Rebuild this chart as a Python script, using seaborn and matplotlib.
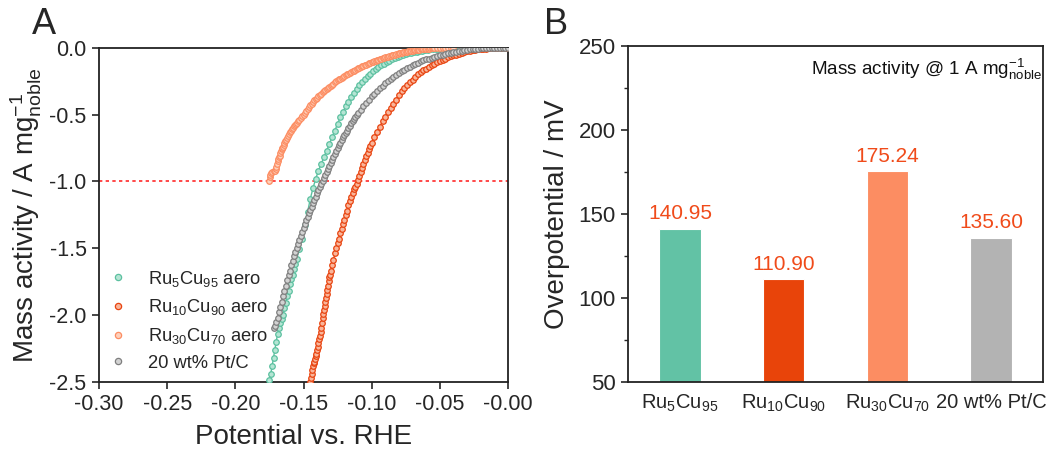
import numpy as np
import pandas as pd
import matplotlib
matplotlib.use("Agg")
import matplotlib.pyplot as plt
import seaborn as sns
from matplotlib.lines import Line2D

# ---------------- data: panel A (potential V vs. RHE, mass activity A mg-1) -------------
ru5_E = [-0.175, -0.174, -0.173, -0.172, -0.171, -0.170, -0.169, -0.168, -0.167, -0.166,
         -0.165, -0.164, -0.163, -0.162, -0.161, -0.160, -0.159, -0.158, -0.157, -0.156,
         -0.155, -0.153, -0.151, -0.149, -0.147, -0.145, -0.143, -0.141, -0.139, -0.137,
         -0.135, -0.133, -0.131, -0.129, -0.127, -0.125, -0.123, -0.121, -0.119, -0.117,
         -0.115, -0.113, -0.111, -0.109, -0.107, -0.105, -0.103, -0.101, -0.099, -0.097,
         -0.095, -0.093, -0.091, -0.089, -0.087, -0.085, -0.083, -0.081, -0.079, -0.077,
         -0.075, -0.073, -0.071, -0.069, -0.067, -0.065, -0.063, -0.061, -0.059, -0.057,
         -0.055, -0.053, -0.051, -0.049, -0.047, -0.045, -0.043, -0.040, -0.035, -0.030,
         -0.025, -0.020, -0.015, -0.010, -0.005, 0.000]
ru5_J = [-2.49, -2.44, -2.38, -2.32, -2.26, -2.20, -2.14, -2.10, -2.06, -2.03,
         -2.00, -1.95, -1.91, -1.86, -1.82, -1.77, -1.73, -1.70, -1.66, -1.62,
         -1.58, -1.51, -1.43, -1.33, -1.23, -1.13, -1.05, -0.98, -0.92, -0.87,
         -0.82, -0.77, -0.72, -0.67, -0.62, -0.57, -0.52, -0.48, -0.44, -0.405,
         -0.37, -0.34, -0.31, -0.28, -0.255, -0.235, -0.215, -0.195, -0.177, -0.16,
         -0.145, -0.132, -0.12, -0.108, -0.097, -0.087, -0.078, -0.07, -0.062, -0.055,
         -0.049, -0.043, -0.038, -0.033, -0.029, -0.025, -0.021, -0.018, -0.015, -0.012,
         -0.010, -0.008, -0.007, -0.005, -0.004, -0.003, -0.002, -0.001, -0.001, 0.0,
         0.0, 0.0, 0.0, 0.0, 0.0, 0.0]

ru10_E = [-0.1450, -0.1445, -0.1440, -0.1435, -0.1430, -0.1425, -0.1420, -0.1415, -0.1410,
          -0.1405, -0.1400, -0.1395, -0.1390, -0.1385, -0.1380, -0.1375, -0.1370, -0.1365,
          -0.1360, -0.1355, -0.1350, -0.1345, -0.1340, -0.1335, -0.1330, -0.1325, -0.1320,
          -0.1315, -0.1310, -0.1305, -0.1300, -0.129, -0.128, -0.127, -0.126, -0.125, -0.124,
          -0.123, -0.122, -0.121, -0.120, -0.119, -0.118, -0.117, -0.116, -0.115, -0.114,
          -0.113, -0.112, -0.111, -0.110, -0.109, -0.108, -0.107, -0.106, -0.105, -0.104,
          -0.103, -0.102, -0.101, -0.100, -0.098, -0.096, -0.094, -0.092, -0.090, -0.088,
          -0.086, -0.084, -0.082, -0.080, -0.078, -0.076, -0.074, -0.072, -0.070, -0.068,
          -0.066, -0.064, -0.062, -0.060, -0.058, -0.056, -0.054, -0.052, -0.050, -0.048,
          -0.046, -0.044, -0.042, -0.040, -0.038, -0.036, -0.034, -0.032, -0.030, -0.028,
          -0.026, -0.024, -0.022, -0.020, -0.018, -0.016, -0.014, -0.012, -0.010, -0.008,
          -0.005, -0.002, 0.000]
ru10_J = [-2.50, -2.47, -2.44, -2.41, -2.38, -2.36, -2.35, -2.33, -2.31,
          -2.29, -2.26, -2.24, -2.21, -2.18, -2.16, -2.13, -2.10, -2.06,
          -2.02, -1.99, -1.96, -1.93, -1.90, -1.87, -1.84, -1.81, -1.78,
          -1.75, -1.72, -1.70, -1.67, -1.63, -1.59, -1.54, -1.50, -1.46, -1.43,
          -1.39, -1.36, -1.32, -1.29, -1.25, -1.22, -1.18, -1.15, -1.12, -1.09,
          -1.06, -1.04, -1.02, -0.99, -0.96, -0.93, -0.90, -0.87, -0.84, -0.81,
          -0.785, -0.76, -0.735, -0.71, -0.67, -0.63, -0.59, -0.55, -0.515, -0.48,
          -0.45, -0.42, -0.39, -0.355, -0.325, -0.30, -0.28, -0.26, -0.24, -0.22,
          -0.20, -0.185, -0.17, -0.157, -0.145, -0.133, -0.121, -0.11, -0.10, -0.09,
          -0.082, -0.073, -0.065, -0.058, -0.051, -0.044, -0.038, -0.033, -0.028, -0.023,
          -0.019, -0.016, -0.013, -0.010, -0.008, -0.006, -0.004, -0.003, -0.002, -0.001,
          -0.001, 0.0, 0.0]

ru30_E = [-0.1752, -0.1748, -0.1743, -0.1736, -0.1728, -0.1720, -0.1712, -0.1705, -0.1700,
          -0.1695, -0.1690, -0.1685, -0.1680, -0.1675, -0.1670, -0.1665, -0.1660, -0.1655,
          -0.1650, -0.1645, -0.1640, -0.1635, -0.1630, -0.1622, -0.1615, -0.1608, -0.1600,
          -0.1592, -0.1585, -0.1578, -0.1570, -0.1562, -0.1555, -0.1548, -0.1540, -0.1530,
          -0.1520, -0.1510, -0.1500, -0.1490, -0.1480, -0.1470, -0.1460, -0.1450, -0.1440,
          -0.1430, -0.1420, -0.1410, -0.1400, -0.1390, -0.1380, -0.1370, -0.1360, -0.1350,
          -0.1340, -0.1330, -0.1320, -0.1310, -0.1300, -0.1290, -0.1280, -0.1270, -0.1260,
          -0.1250, -0.1240, -0.1230, -0.1220, -0.1210, -0.1200, -0.1190, -0.1180, -0.1170,
          -0.1160, -0.1150, -0.1140, -0.1130, -0.1120, -0.1110, -0.1100, -0.1090, -0.1080,
          -0.1070, -0.1060, -0.1050, -0.1040, -0.1030, -0.1020, -0.1010, -0.1000, -0.0990,
          -0.0980, -0.0970, -0.0960, -0.0950, -0.0940, -0.0930, -0.0920, -0.0910, -0.0900,
          -0.0890, -0.0880, -0.0870, -0.0860, -0.0850, -0.0840, -0.0830, -0.0820, -0.0810,
          -0.0800, -0.0790, -0.0780, -0.0770, -0.0760, -0.0750, -0.0740, -0.0730, -0.0720,
          -0.0710, -0.0700, -0.0690, -0.0680, -0.0670, -0.0660, -0.0650, -0.0640, -0.0630,
          -0.0620, -0.0610, -0.0600, -0.0590, -0.0580, -0.0570, -0.0560, -0.0550, -0.0540,
          -0.0520, -0.0500, -0.0480, -0.0460, -0.0440, -0.0420, -0.0400]
ru30_J = [-1.00, -0.97, -0.95, -0.935, -0.93, -0.925, -0.92, -0.905, -0.89,
          -0.87, -0.85, -0.835, -0.82, -0.81, -0.79, -0.775, -0.76, -0.75,
          -0.74, -0.725, -0.71, -0.70, -0.69, -0.675, -0.66, -0.645, -0.63,
          -0.62, -0.61, -0.60, -0.585, -0.575, -0.57, -0.56, -0.55, -0.54,
          -0.525, -0.512, -0.50, -0.488, -0.475, -0.46, -0.445, -0.432, -0.42,
          -0.408, -0.395, -0.385, -0.375, -0.365, -0.355, -0.345, -0.335, -0.325,
          -0.315, -0.307, -0.30, -0.292, -0.285, -0.276, -0.268, -0.26, -0.252,
          -0.245, -0.238, -0.231, -0.225, -0.218, -0.212, -0.206, -0.20, -0.194,
          -0.188, -0.182, -0.177, -0.171, -0.166, -0.160, -0.155, -0.150, -0.145,
          -0.140, -0.136, -0.131, -0.127, -0.122, -0.118, -0.114, -0.110, -0.106,
          -0.102, -0.098, -0.094, -0.090, -0.087, -0.083, -0.080, -0.076, -0.073,
          -0.070, -0.066, -0.063, -0.060, -0.057, -0.054, -0.051, -0.048, -0.045,
          -0.043, -0.040, -0.038, -0.035, -0.033, -0.031, -0.029, -0.027, -0.025,
          -0.023, -0.021, -0.0195, -0.018, -0.0165, -0.015, -0.0135, -0.012, -0.011,
          -0.010, -0.009, -0.008, -0.007, -0.006, -0.0055, -0.005, -0.0045, -0.004,
          -0.003, -0.002, -0.002, -0.001, -0.001, -0.001, 0.0]

ptc_E = [-0.172, -0.171, -0.170, -0.169, -0.168, -0.167, -0.166, -0.165, -0.164, -0.163,
         -0.162, -0.161, -0.160, -0.159, -0.158, -0.157, -0.156, -0.155, -0.154, -0.153,
         -0.152, -0.151, -0.150, -0.149, -0.148, -0.147, -0.146, -0.145, -0.144, -0.143,
         -0.142, -0.141, -0.140, -0.139, -0.138, -0.137, -0.136, -0.135, -0.134, -0.133,
         -0.132, -0.131, -0.130, -0.129, -0.128, -0.127, -0.126, -0.125, -0.124, -0.123,
         -0.122, -0.121, -0.120, -0.119, -0.118, -0.117, -0.116, -0.115, -0.114, -0.113,
         -0.112, -0.111, -0.110, -0.108, -0.106, -0.104, -0.102, -0.100, -0.098, -0.096,
         -0.094, -0.092, -0.090, -0.088, -0.086, -0.084, -0.082, -0.080, -0.078, -0.076,
         -0.074, -0.072, -0.070, -0.068, -0.066, -0.064, -0.062, -0.060, -0.058, -0.056,
         -0.054, -0.052, -0.050, -0.048, -0.046, -0.044, -0.042, -0.040, -0.038, -0.036,
         -0.034, -0.032, -0.030, -0.028, -0.026, -0.024, -0.022, -0.020, -0.018, -0.016,
         -0.014, -0.012, -0.010, -0.008, -0.006, -0.004, -0.002, 0.000]
ptc_J = [-2.10, -2.08, -2.05, -2.02, -1.98, -1.94, -1.90, -1.86, -1.82, -1.78,
         -1.74, -1.70, -1.67, -1.63, -1.60, -1.56, -1.53, -1.50, -1.47, -1.44,
         -1.41, -1.38, -1.35, -1.32, -1.29, -1.265, -1.24, -1.215, -1.19, -1.165,
         -1.14, -1.115, -1.09, -1.065, -1.04, -1.02, -1.00, -0.975, -0.95, -0.93,
         -0.91, -0.885, -0.86, -0.84, -0.82, -0.795, -0.77, -0.75, -0.73, -0.71,
         -0.69, -0.672, -0.655, -0.637, -0.62, -0.602, -0.585, -0.567, -0.55, -0.535,
         -0.52, -0.505, -0.49, -0.465, -0.44, -0.415, -0.39, -0.365, -0.345, -0.325,
         -0.305, -0.285, -0.265, -0.25, -0.235, -0.22, -0.205, -0.19, -0.177, -0.165,
         -0.153, -0.142, -0.131, -0.121, -0.112, -0.103, -0.095, -0.088, -0.081, -0.074,
         -0.068, -0.062, -0.056, -0.051, -0.046, -0.041, -0.037, -0.033, -0.029, -0.025,
         -0.022, -0.019, -0.016, -0.013, -0.011, -0.009, -0.007, -0.005, -0.004, -0.003,
         -0.002, -0.001, -0.001, 0.0, 0.0, 0.0, 0.0, 0.0]

legend_labels = [r'Ru$_5$Cu$_{95}$ aero', r'Ru$_{10}$Cu$_{90}$ aero',
                 r'Ru$_{30}$Cu$_{70}$ aero', '20 wt% Pt/C']
threshold = -1.0

# ---------------- data: panel B ----------------
bar_labels = [r'Ru$_5$Cu$_{95}$', r'Ru$_{10}$Cu$_{90}$', r'Ru$_{30}$Cu$_{70}$', '20 wt% Pt/C']
bar_values = [140.95, 110.90, 175.24, 135.60]

# ---------------- style ----------------
sns.set_theme(style="ticks")
plt.rcParams['font.family'] = ['Liberation Sans', 'DejaVu Sans']
plt.rcParams['mathtext.fontset'] = 'custom'
plt.rcParams['mathtext.rm'] = 'Liberation Sans'
plt.rcParams['mathtext.it'] = 'Liberation Sans:italic'
plt.rcParams['mathtext.bf'] = 'Liberation Sans:bold'
plt.rcParams['axes.unicode_minus'] = False

line_colors = ['#5cc0a0', '#e84410', '#fc8d62', '#7f7f7f']
face_colors = ['#b5e5d4', '#f9b59a', '#fed0bb', '#d2d2d2']
bar_colors = ['#62c2a5', '#e8440a', '#fc8d62', '#b3b3b3']

fig = plt.figure(figsize=(10.5, 4.53), dpi=100)
axA = fig.add_axes([0.0943, 0.1574, 0.3895, 0.7373])
axB = fig.add_axes([0.5981, 0.1574, 0.3952, 0.7411])

series = [(ru5_E, ru5_J), (ru10_E, ru10_J), (ru30_E, ru30_J), (ptc_E, ptc_J)]
frames = []
for lab, (E, J) in zip(legend_labels, series):
    frames.append(pd.DataFrame({'E': E, 'J': J, 'sample': lab}))
dfA = pd.concat(frames, ignore_index=True)

for i, lab in enumerate(legend_labels):
    sub = dfA[dfA['sample'] == lab]
    sns.lineplot(data=sub, x='E', y='J', ax=axA, color=line_colors[i], lw=1.0,
                 marker='o', markersize=4.0, markeredgewidth=0.9,
                 markeredgecolor=line_colors[i], markerfacecolor=face_colors[i],
                 sort=False, estimator=None, label=lab, zorder=3 + i)

axA.axhline(threshold, color='#ff2a2a', lw=1.2, ls=(0, (2, 2)), zorder=2)
axA.set_xlim(-0.30, 0.0)
axA.set_ylim(-2.5, 0.0)
axA.set_xticks(np.arange(-0.30, 0.001, 0.05))
axA.set_xticklabels(['%.2f' % v for v in np.arange(-0.30, 0.001, 0.05)])
axA.set_yticks(np.arange(-2.5, 0.01, 0.5))
axA.set_yticklabels(['%.1f' % v for v in np.arange(-2.5, 0.01, 0.5)])
axA.set_xlabel('Potential vs. RHE', fontsize=20, labelpad=6)
axA.set_ylabel(r'Mass activity / A mg$_{\mathrm{noble}}^{-1}$', fontsize=20, labelpad=4)
axA.tick_params(axis='both', direction='out', length=5, width=1.2, labelsize=15.5, pad=4)
for s in axA.spines.values():
    s.set_linewidth(1.3)
    s.set_color('#222222')

hs = [Line2D([], [], ls='none', marker='o', markersize=4.5, markeredgewidth=0.9,
             markeredgecolor=line_colors[i], markerfacecolor=face_colors[i]) for i in range(4)]
axA.legend(hs, legend_labels, loc='lower left', bbox_to_anchor=(0.0, 0.0), frameon=False,
           fontsize=13.2, handlelength=1.0, handletextpad=1.1, labelspacing=0.47,
           borderaxespad=0.3, borderpad=0.25)

# ---------------- panel B ----------------
dfB = pd.DataFrame({'cat': bar_labels, 'val': bar_values})
sns.barplot(data=dfB, x='cat', y='val', hue='cat', palette=bar_colors, ax=axB,
            width=0.4, edgecolor='white', linewidth=0.8, legend=False, saturation=1)
axB.set_xlim(-0.5, 3.5)
axB.set_ylim(50, 250)
axB.set_yticks([50, 100, 150, 200, 250])
axB.set_yticks(np.arange(75, 250, 50), minor=True)
axB.tick_params(axis='y', which='major', direction='out', length=5, width=1.2,
                labelsize=16, pad=4)
axB.tick_params(axis='y', which='minor', direction='out', length=3, width=1.0)
axB.tick_params(axis='x', length=0, labelsize=14.5, pad=8)
axB.set_xlabel('')
axB.set_ylabel('Overpotential / mV', fontsize=20, labelpad=6)
for s in axB.spines.values():
    s.set_linewidth(1.3)
    s.set_color('#222222')
for i, v in enumerate(bar_values):
    axB.text(i, v + 3.5, '%.2f' % v, ha='center', va='bottom', fontsize=15,
             color='#f04b1a')
axB.text(0.998, 0.93, r'Mass activity @ 1 A mg$_{\mathrm{noble}}^{-1}$', transform=axB.transAxes,
         ha='right', va='center', fontsize=13.6, color='#111111')

fig.text(0.030, 0.985, 'A', fontsize=26, va='top', ha='left')
fig.text(0.518, 0.985, 'B', fontsize=26, va='top', ha='left')

fig.savefig('out.png', dpi=100)
